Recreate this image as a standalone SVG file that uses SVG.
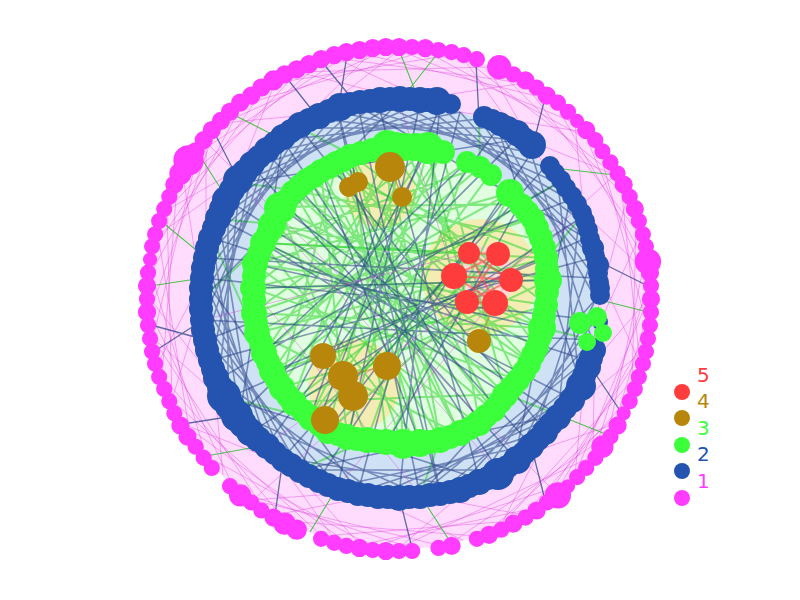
<svg xmlns="http://www.w3.org/2000/svg" width="800" height="600" viewBox="0 0 800 600">
<style>
.ep{stroke:#e03ce0;stroke-width:0.9;opacity:0.45;fill:none}
.eb{stroke:#2a4488;stroke-width:1.6;opacity:0.55;fill:none}
.eg{stroke:#2ed62e;stroke-width:2;opacity:0.55;fill:none}
.egt{stroke:#22bb22;stroke-width:1.1;opacity:0.8;fill:none}
.ebt{stroke:#2a4488;stroke-width:1.3;opacity:0.75;fill:none}
.er{stroke:#ff4444;stroke-width:2;opacity:0.6;fill:none}
.eo{stroke:#b8860b;stroke-width:1.5;opacity:0.6;fill:none}
.n1 circle{fill:#ff3cff;stroke:#ff3cff;stroke-width:2}
.n2 circle{fill:#2453b0}
.n3 circle{fill:#3cff3c}
.n4 circle{fill:#b8860b}
.n5 circle{fill:#ff3c3c}
.lab{font-family:"DejaVu Sans","Liberation Sans",sans-serif;font-size:20px}
</style>
<g id="regions">
<circle cx="399" cy="299" r="250" fill="#ffdcfd"/>
<circle cx="399" cy="299" r="197" fill="#cfe1f5"/>
<circle cx="400" cy="296" r="146" fill="#e0ffe0"/>
<circle cx="480" cy="277" r="58" fill="#f6eaab" opacity="0.85"/>
<circle cx="380" cy="192" r="36" fill="#f6eaab" opacity="0.85"/>
<circle cx="354" cy="385" r="46" fill="#f6eaab" opacity="0.85"/>
<circle cx="482" cy="278" r="32" fill="#ffd8d8" opacity="0.9"/>
</g>
<g id="connectors">
<path class="eg" d="M387 146L292 402M387 146L403 446M405 148L264 353M428 149L252 288M428 149L347 437M442 152L280 388M467 162L252 313M467 162L367 440M480 167L263 243M490 174L310 418M510 193L254 264M510 193L387 443M520 204L280 207M520 204L272 372M533 218L252 288M542 240L293 190M542 240L327 432M547 258L257 333M547 258L321 170M549 280L273 224M549 280L292 402M547 305L254 264M547 305L352 155M543 328L252 313M543 328L307 178M537 347L280 207M537 347L387 146M530 363L263 243M530 363L337 162M518 380L252 288M518 380L405 148M505 394L293 190M505 394L442 152M495 412L273 224M495 412L352 155M480 425L254 264M480 425L428 149M460 435L321 170M460 435L257 333M440 440L293 190M440 440L387 146M420 444L337 162M420 444L263 243M403 446L307 178M387 443L352 155M367 440L280 207M347 437L321 170M327 432L405 148M310 418L442 152M280 388L337 162M272 372L428 149M264 353L480 167M257 333L510 193M252 313L533 218M252 288L549 280M263 243L547 258M273 224L543 328M293 190L530 363M307 178L495 412M337 162L460 435M352 155L440 440M292 402L505 394M280 388L547 305"/>
<path class="eg" d="M273 224L219 219M263 243L202 299M264 353L212 238M310 418L228 398M367 440L300 470M440 440L420 495M505 394L558 415M543 328L592 340M547 258L579 219M520 204L558 183M480 167L479 119M352 155L300 128M293 190L240 183M454 276L292 402M469 253L263 243M511 280L337 162M495 303L272 372M467 302L428 149M498 254L310 418"/>
<path class="eb" d="M596 299L515 458M592 340L460 486M579 379L440 492M558 415L378 495M531 445L338 486M498 470L300 470M460 486L283 458M420 495L240 415M378 495L219 379M338 486L206 340M300 470L202 299M267 445L206 258M240 415L212 238M219 379L240 183M206 340L267 153M202 299L300 128M206 258L338 112M219 219L378 103M240 183L420 103M267 153L460 112M300 128L498 128M338 112L531 153M378 103L558 183M420 103L579 219M460 112L592 258M498 128L596 299M531 153L592 340M558 183L579 379M579 219L558 415M592 258L531 445M595 320L479 479M586 360L420 495M570 398L399 496M545 431L358 492M319 479L203 320M283 458L203 278M253 431L219 219M228 398L228 200M212 360L253 167M203 320L283 140M203 278L319 119M212 238L358 106M228 200L399 102M253 167L440 106M283 140L479 119M319 119L515 140M358 106L545 167M399 102L570 200M440 106L586 238M479 119L595 278"/>
<path class="eb" d="M596 299L420 495M558 415L300 470M479 479L228 398M358 492L203 278M240 415L283 140M202 299L399 102M240 183L515 140M358 106L586 238M498 128L579 379M570 200L515 458"/>
<path class="eb" d="M586 360L212 238M545 431L300 128M479 479L378 103M399 496L440 106M319 479L531 153M253 431L579 219M212 360L592 258M203 278L595 320M228 200L558 415M283 140L498 470M358 106L440 492M440 106L300 470M515 140L240 415M570 200L206 340M595 278L206 258M515 458L253 167M440 492L338 112M358 492L460 112M283 458L545 167M228 398L586 238M203 320L592 340M219 219L570 398M267 153L531 445M338 112L420 495M420 103L338 486M498 128L267 445M558 183L219 379"/>
<path class="eb" d="M252 288L549 280M280 207L518 380M327 432L510 193M337 162L480 425M264 353L467 162M292 402L428 149M254 264L543 328M310 418L405 148M387 443L520 204M272 372L547 258M263 243L505 394M420 444L321 170"/>
<path class="er" d="M469 253L511 280M498 254L454 276M454 276L511 280M467 302L498 254M495 303L469 253M454 276L495 303M467 302L511 280M469 253L498 254M467 302L495 303"/>
<path class="eo" d="M343 376L387 366M390 167L402 197M323 356L353 396M479 341L495 303"/>
<path class="ep" d="M648 299L575 475M645 338L556 493M636 376L500 527M627 400L524 515M608 435L451 543M593 456L399 548M566 484L373 547M535 508L360 545M512 521L322 536M476 536L286 521M438 545L253 500M412 548L242 493M373 547L206 456M347 543L183 424M322 536L172 400M286 521L162 376M263 508L153 338M232 484L150 312M206 456L151 273M190 435L158 235M172 400L167 210M162 376L177 186M153 338L198 153M150 312L214 132M151 273L242 105M155 247L263 90M167 210L298 72M177 186L322 62M198 153L347 55M223 123L386 50M242 105L425 51M275 83L451 55M298 72L488 67M335 58L524 83M360 53L545 98M399 50L575 123M425 51L593 142M463 58L615 175M500 72L627 198M524 83L640 235M556 105L645 260M584 132L648 286M600 153L647 325M621 186L640 363M636 222L632 388M645 260L608 435M648 286L593 456M648 312L615 424M643 351L545 500M621 412L488 532"/>
<path class="ep" d="M648 299L579 379M640 363L592 258M615 424L515 458M575 475L586 360M524 515L420 495M463 540L358 492M399 548L479 479M335 540L267 445M275 515L378 495M223 475L212 360M183 424L300 470M158 363L203 278M150 299L228 398M158 235L253 167M183 175L202 299M223 123L338 112M275 83L228 200M335 58L440 106M399 50L300 128M463 58L531 153M524 83L399 102M575 123L586 238M615 175L498 128M640 235L592 340M643 351L545 431M593 456L595 320M500 527L558 415M360 545L283 458M253 500L358 492M172 400L202 299M153 338L240 415M167 210L267 153M206 142L206 258M298 72L420 103M373 51L283 140M488 67L545 167M584 132L460 112M627 198L595 320M647 273L570 200"/>
<path class="ep" d="M615 175L253 500M206 142L556 493M240 183L498 470M579 219L267 445M399 102L454 276M203 320L469 253M338 486L511 280M420 495L252 288"/>
<path class="egt" d="M232 114L283 140M399 50L420 103M438 53L399 102M615 175L545 167M648 312L596 299M608 435L558 415M451 543L420 495M310 532L338 486M206 456L267 445M150 286L203 278M162 222L206 258M198 153L228 200"/>
<path class="ebt" d="M151 325L206 340M155 351L203 320M214 132L240 183M322 62L358 106M347 55L338 112M545 98L531 153M648 286L592 258M621 412L586 360M545 500L531 445M412 548L399 496M275 515L283 458M183 424L240 415M286 77L319 119M476 62L479 119"/>
</g>
<g id="shell1" class="n1" transform="translate(-4.79,-3.59) scale(1.012)">
<g id="p0"><circle cx="648" cy="299" r="8"/></g>
<g id="p3"><circle cx="648" cy="312" r="7"/></g>
<g id="p6"><circle cx="647" cy="325" r="7"/></g>
<g id="p9"><circle cx="645" cy="338" r="7"/></g>
<g id="p12"><circle cx="643" cy="351" r="7"/></g>
<g id="p15"><circle cx="640" cy="363" r="7"/></g>
<g id="p18"><circle cx="636" cy="376" r="7"/></g>
<g id="p21"><circle cx="632" cy="388" r="7"/></g>
<g id="p24"><circle cx="627" cy="400" r="7"/></g>
<g id="p27"><circle cx="621" cy="412" r="6"/></g>
<g id="p30"><circle cx="615" cy="424" r="8"/></g>
<g id="p33"><circle cx="608" cy="435" r="7"/></g>
<g id="p36"><circle cx="600" cy="445" r="10"/></g>
<g id="p39"><circle cx="593" cy="456" r="7"/></g>
<g id="p42"><circle cx="584" cy="466" r="7"/></g>
<g id="p45"><circle cx="575" cy="475" r="7"/></g>
<g id="p48"><circle cx="566" cy="484" r="6"/></g>
<g id="p51"><circle cx="556" cy="493" r="12"/></g>
<g id="p54"><circle cx="545" cy="500" r="7"/></g>
<g id="p57"><circle cx="535" cy="508" r="8"/></g>
<g id="p60"><circle cx="524" cy="515" r="7"/></g>
<g id="p63"><circle cx="512" cy="521" r="8"/></g>
<g id="p66"><circle cx="500" cy="527" r="7"/></g>
<g id="p69"><circle cx="488" cy="532" r="8"/></g>
<g id="p72"><circle cx="476" cy="536" r="7"/></g>
<g id="p78"><circle cx="451" cy="543" r="8"/></g>
<g id="p81"><circle cx="438" cy="545" r="7"/></g>
<g id="p87"><circle cx="412" cy="548" r="7"/></g>
<g id="p90"><circle cx="399" cy="548" r="7"/></g>
<g id="p93"><circle cx="386" cy="548" r="8"/></g>
<g id="p96"><circle cx="373" cy="547" r="7"/></g>
<g id="p99"><circle cx="360" cy="545" r="8"/></g>
<g id="p102"><circle cx="347" cy="543" r="7"/></g>
<g id="p105"><circle cx="335" cy="540" r="7"/></g>
<g id="p108"><circle cx="322" cy="536" r="7"/></g>
<g id="p114"><circle cx="298" cy="527" r="9"/></g>
<g id="p117"><circle cx="286" cy="521" r="10"/></g>
<g id="p120"><circle cx="275" cy="515" r="8"/></g>
<g id="p123"><circle cx="263" cy="508" r="7"/></g>
<g id="p126"><circle cx="253" cy="500" r="7"/></g>
<g id="p129"><circle cx="242" cy="493" r="10"/></g>
<g id="p132"><circle cx="232" cy="484" r="7"/></g>
<g id="p138"><circle cx="214" cy="466" r="7"/></g>
<g id="p141"><circle cx="206" cy="456" r="7"/></g>
<g id="p144"><circle cx="198" cy="445" r="7"/></g>
<g id="p147"><circle cx="190" cy="435" r="8"/></g>
<g id="p150"><circle cx="183" cy="424" r="8"/></g>
<g id="p153"><circle cx="177" cy="412" r="7"/></g>
<g id="p156"><circle cx="172" cy="400" r="7"/></g>
<g id="p159"><circle cx="167" cy="388" r="7"/></g>
<g id="p162"><circle cx="162" cy="376" r="7"/></g>
<g id="p165"><circle cx="158" cy="363" r="7"/></g>
<g id="p168"><circle cx="155" cy="351" r="7"/></g>
<g id="p171"><circle cx="153" cy="338" r="7"/></g>
<g id="p174"><circle cx="151" cy="325" r="7"/></g>
<g id="p177"><circle cx="150" cy="312" r="8"/></g>
<g id="p180"><circle cx="150" cy="299" r="7"/></g>
<g id="p183"><circle cx="150" cy="286" r="8"/></g>
<g id="p186"><circle cx="151" cy="273" r="7"/></g>
<g id="p189"><circle cx="153" cy="260" r="6"/></g>
<g id="p192"><circle cx="155" cy="247" r="7"/></g>
<g id="p195"><circle cx="158" cy="235" r="7"/></g>
<g id="p198"><circle cx="162" cy="222" r="7"/></g>
<g id="p201"><circle cx="167" cy="210" r="7"/></g>
<g id="p204"><circle cx="172" cy="198" r="7"/></g>
<g id="p207"><circle cx="177" cy="186" r="8"/></g>
<g id="p210"><circle cx="183" cy="175" r="10"/></g>
<g id="p213"><circle cx="191" cy="162" r="14"/></g>
<g id="p216"><circle cx="198" cy="153" r="8"/></g>
<g id="p219"><circle cx="206" cy="142" r="8"/></g>
<g id="p222"><circle cx="214" cy="132" r="8"/></g>
<g id="p225"><circle cx="223" cy="123" r="8"/></g>
<g id="p228"><circle cx="232" cy="114" r="8"/></g>
<g id="p231"><circle cx="242" cy="105" r="8"/></g>
<g id="p234"><circle cx="253" cy="98" r="8"/></g>
<g id="p237"><circle cx="263" cy="90" r="8"/></g>
<g id="p240"><circle cx="275" cy="83" r="9"/></g>
<g id="p243"><circle cx="286" cy="77" r="8"/></g>
<g id="p246"><circle cx="298" cy="72" r="8"/></g>
<g id="p249"><circle cx="310" cy="67" r="8"/></g>
<g id="p252"><circle cx="322" cy="62" r="8"/></g>
<g id="p255"><circle cx="335" cy="58" r="8"/></g>
<g id="p258"><circle cx="347" cy="55" r="8"/></g>
<g id="p261"><circle cx="360" cy="53" r="8"/></g>
<g id="p264"><circle cx="373" cy="51" r="8"/></g>
<g id="p267"><circle cx="386" cy="50" r="8"/></g>
<g id="p270"><circle cx="399" cy="50" r="8"/></g>
<g id="p273"><circle cx="412" cy="50" r="7"/></g>
<g id="p276"><circle cx="425" cy="51" r="8"/></g>
<g id="p279"><circle cx="438" cy="53" r="7"/></g>
<g id="p282"><circle cx="451" cy="55" r="7"/></g>
<g id="p285"><circle cx="463" cy="58" r="7"/></g>
<g id="p288"><circle cx="476" cy="62" r="7"/></g>
<g id="p294"><circle cx="498" cy="70" r="11"/></g>
<g id="p297"><circle cx="512" cy="77" r="7"/></g>
<g id="p300"><circle cx="524" cy="83" r="8"/></g>
<g id="p303"><circle cx="535" cy="90" r="7"/></g>
<g id="p306"><circle cx="545" cy="98" r="8"/></g>
<g id="p309"><circle cx="556" cy="105" r="7"/></g>
<g id="p312"><circle cx="566" cy="114" r="7"/></g>
<g id="p315"><circle cx="575" cy="123" r="6"/></g>
<g id="p318"><circle cx="584" cy="132" r="8"/></g>
<g id="p321"><circle cx="593" cy="142" r="7"/></g>
<g id="p324"><circle cx="600" cy="153" r="7"/></g>
<g id="p327"><circle cx="608" cy="164" r="7"/></g>
<g id="p330"><circle cx="615" cy="175" r="7"/></g>
<g id="p333"><circle cx="621" cy="186" r="8"/></g>
<g id="p336"><circle cx="627" cy="198" r="7"/></g>
<g id="p339"><circle cx="632" cy="210" r="8"/></g>
<g id="p342"><circle cx="636" cy="222" r="7"/></g>
<g id="p345"><circle cx="640" cy="235" r="7"/></g>
<g id="p348"><circle cx="643" cy="247" r="7"/></g>
<g id="p351"><circle cx="645" cy="262" r="12"/></g>
<g id="p354"><circle cx="647" cy="273" r="8"/></g>
<g id="p357"><circle cx="648" cy="286" r="7"/></g>
</g>
<g id="shell2" class="n2">
<g id="b0"><circle cx="600" cy="295" r="10"/></g>
<g id="b1"><circle cx="600" cy="322" r="8"/></g>
<g id="b2"><circle cx="594" cy="350" r="12"/></g>
<g id="b3"><circle cx="588" cy="367" r="13"/></g>
<g id="b4"><circle cx="581" cy="386" r="15"/></g>
<g id="b5"><circle cx="572" cy="400" r="13"/></g>
<g id="b6"><circle cx="558" cy="417" r="13"/></g>
<g id="b7"><circle cx="545" cy="432" r="13"/></g>
<g id="b8"><circle cx="531" cy="446" r="13"/></g>
<g id="b9"><circle cx="517" cy="460" r="14"/></g>
<g id="b10"><circle cx="498" cy="474" r="16"/></g>
<g id="b11"><circle cx="479" cy="482" r="13"/></g>
<g id="b12"><circle cx="460" cy="490" r="13"/></g>
<g id="b13"><circle cx="440" cy="494" r="12"/></g>
<g id="b14"><circle cx="420" cy="497" r="12"/></g>
<g id="b15"><circle cx="399" cy="498" r="13"/></g>
<g id="b16"><circle cx="378" cy="497" r="12"/></g>
<g id="b17"><circle cx="358" cy="494" r="12"/></g>
<g id="b18"><circle cx="338" cy="489" r="12"/></g>
<g id="b19"><circle cx="319" cy="481" r="12"/></g>
<g id="b20"><circle cx="300" cy="471" r="12"/></g>
<g id="b21"><circle cx="283" cy="460" r="12"/></g>
<g id="b22"><circle cx="267" cy="446" r="13"/></g>
<g id="b23"><circle cx="250" cy="432" r="14"/></g>
<g id="b24"><circle cx="237" cy="416" r="16"/></g>
<g id="b25"><circle cx="224" cy="396" r="17"/></g>
<g id="b26"><circle cx="216" cy="378" r="13"/></g>
<g id="b27"><circle cx="210" cy="360" r="12"/></g>
<g id="b28"><circle cx="205" cy="340" r="12"/></g>
<g id="b29"><circle cx="202" cy="320" r="12"/></g>
<g id="b30"><circle cx="201" cy="299" r="12"/></g>
<g id="b31"><circle cx="202" cy="278" r="12"/></g>
<g id="b32"><circle cx="205" cy="258" r="12"/></g>
<g id="b33"><circle cx="210" cy="238" r="12"/></g>
<g id="b34"><circle cx="218" cy="218" r="13"/></g>
<g id="b35"><circle cx="226" cy="200" r="14"/></g>
<g id="b36"><circle cx="238" cy="180" r="15"/></g>
<g id="b37"><circle cx="252" cy="164" r="13"/></g>
<g id="b38"><circle cx="267" cy="150" r="13"/></g>
<g id="b39"><circle cx="283" cy="137" r="13"/></g>
<g id="b40"><circle cx="300" cy="125" r="13"/></g>
<g id="b41"><circle cx="319" cy="116" r="13"/></g>
<g id="b42"><circle cx="340" cy="107" r="14"/></g>
<g id="b43"><circle cx="360" cy="102" r="12"/></g>
<g id="b44"><circle cx="380" cy="100" r="13"/></g>
<g id="b45"><circle cx="400" cy="99" r="13"/></g>
<g id="b46"><circle cx="420" cy="100" r="13"/></g>
<g id="b47"><circle cx="437" cy="101" r="14"/></g>
<g id="b48"><circle cx="451" cy="104" r="10"/></g>
<g id="b49"><circle cx="484" cy="117" r="11"/></g>
<g id="b50"><circle cx="500" cy="124" r="12"/></g>
<g id="b51"><circle cx="517" cy="133" r="13"/></g>
<g id="b52"><circle cx="532" cy="145" r="14"/></g>
<g id="b53"><circle cx="550" cy="166" r="10"/></g>
<g id="b54"><circle cx="561" cy="180" r="10"/></g>
<g id="b55"><circle cx="572" cy="196" r="10"/></g>
<g id="b56"><circle cx="582" cy="213" r="10"/></g>
<g id="b57"><circle cx="588" cy="230" r="10"/></g>
<g id="b58"><circle cx="593" cy="248" r="11"/></g>
<g id="b59"><circle cx="598" cy="265" r="11"/></g>
<g id="b60"><circle cx="599" cy="282" r="10"/></g>
<g id="b61"><circle cx="591" cy="358" r="12"/></g>
<g id="b62"><circle cx="584" cy="376" r="12"/></g>
<g id="b63"><circle cx="576" cy="393" r="12"/></g>
<g id="b64"><circle cx="565" cy="408" r="12"/></g>
<g id="b65"><circle cx="551" cy="424" r="12"/></g>
<g id="b66"><circle cx="538" cy="439" r="12"/></g>
<g id="b67"><circle cx="524" cy="453" r="12"/></g>
<g id="b68"><circle cx="507" cy="467" r="12"/></g>
<g id="b69"><circle cx="488" cy="478" r="12"/></g>
<g id="b70"><circle cx="469" cy="486" r="12"/></g>
<g id="b71"><circle cx="450" cy="492" r="12"/></g>
<g id="b72"><circle cx="430" cy="495" r="12"/></g>
<g id="b73"><circle cx="409" cy="497" r="12"/></g>
<g id="b74"><circle cx="388" cy="497" r="12"/></g>
<g id="b75"><circle cx="368" cy="495" r="12"/></g>
<g id="b76"><circle cx="348" cy="491" r="12"/></g>
<g id="b77"><circle cx="328" cy="485" r="12"/></g>
<g id="b78"><circle cx="309" cy="476" r="12"/></g>
<g id="b79"><circle cx="291" cy="465" r="12"/></g>
<g id="b80"><circle cx="275" cy="453" r="12"/></g>
<g id="b81"><circle cx="258" cy="439" r="13"/></g>
<g id="b82"><circle cx="243" cy="424" r="14"/></g>
<g id="b83"><circle cx="230" cy="406" r="15"/></g>
<g id="b84"><circle cx="220" cy="387" r="13"/></g>
<g id="b85"><circle cx="213" cy="369" r="12"/></g>
<g id="b86"><circle cx="207" cy="350" r="12"/></g>
<g id="b87"><circle cx="203" cy="330" r="12"/></g>
<g id="b88"><circle cx="201" cy="309" r="12"/></g>
<g id="b89"><circle cx="201" cy="288" r="12"/></g>
<g id="b90"><circle cx="203" cy="268" r="12"/></g>
<g id="b91"><circle cx="207" cy="248" r="12"/></g>
<g id="b92"><circle cx="214" cy="228" r="12"/></g>
<g id="b93"><circle cx="222" cy="209" r="13"/></g>
<g id="b94"><circle cx="232" cy="190" r="13"/></g>
<g id="b95"><circle cx="245" cy="172" r="13"/></g>
<g id="b96"><circle cx="259" cy="157" r="12"/></g>
<g id="b97"><circle cx="275" cy="143" r="12"/></g>
<g id="b98"><circle cx="291" cy="131" r="12"/></g>
<g id="b99"><circle cx="309" cy="120" r="12"/></g>
<g id="b100"><circle cx="329" cy="111" r="12"/></g>
<g id="b101"><circle cx="350" cy="104" r="12"/></g>
<g id="b102"><circle cx="370" cy="101" r="12"/></g>
<g id="b103"><circle cx="390" cy="99" r="12"/></g>
<g id="b104"><circle cx="410" cy="99" r="12"/></g>
<g id="b105"><circle cx="428" cy="100" r="12"/></g>
<g id="b106"><circle cx="492" cy="120" r="11"/></g>
<g id="b107"><circle cx="508" cy="128" r="12"/></g>
<g id="b108"><circle cx="524" cy="139" r="12"/></g>
<g id="b109"><circle cx="555" cy="173" r="10"/></g>
<g id="b110"><circle cx="566" cy="188" r="10"/></g>
<g id="b111"><circle cx="577" cy="204" r="10"/></g>
<g id="b112"><circle cx="585" cy="221" r="10"/></g>
<g id="b113"><circle cx="590" cy="239" r="10"/></g>
<g id="b114"><circle cx="595" cy="256" r="10"/></g>
<g id="b115"><circle cx="598" cy="273" r="10"/></g>
<g id="b116"><circle cx="600" cy="288" r="10"/></g>
</g>
<g id="shell3" class="n3">
<g id="g0"><circle cx="387" cy="146" r="16"/></g>
<g id="g1"><circle cx="372" cy="150" r="12"/></g>
<g id="g2"><circle cx="405" cy="147" r="14"/></g>
<g id="g3"><circle cx="428" cy="148" r="16"/></g>
<g id="g4"><circle cx="443" cy="152" r="12"/></g>
<g id="g5"><circle cx="467" cy="162" r="11"/></g>
<g id="g6"><circle cx="480" cy="167" r="11"/></g>
<g id="g7"><circle cx="491" cy="175" r="11"/></g>
<g id="g8"><circle cx="510" cy="193" r="14"/></g>
<g id="g9"><circle cx="521" cy="205" r="12"/></g>
<g id="g10"><circle cx="533" cy="219" r="12"/></g>
<g id="g11"><circle cx="541" cy="238" r="12"/></g>
<g id="g12"><circle cx="546" cy="258" r="12"/></g>
<g id="g13"><circle cx="548" cy="280" r="14"/></g>
<g id="g14"><circle cx="546" cy="305" r="12"/></g>
<g id="g15"><circle cx="542" cy="328" r="14"/></g>
<g id="g16"><circle cx="537" cy="347" r="12"/></g>
<g id="g17"><circle cx="529" cy="364" r="12"/></g>
<g id="g18"><circle cx="518" cy="380" r="12"/></g>
<g id="g19"><circle cx="505" cy="395" r="13"/></g>
<g id="g20"><circle cx="494" cy="410" r="12"/></g>
<g id="g21"><circle cx="479" cy="423" r="13"/></g>
<g id="g22"><circle cx="460" cy="433" r="13"/></g>
<g id="g23"><circle cx="440" cy="440" r="13"/></g>
<g id="g24"><circle cx="420" cy="443" r="14"/></g>
<g id="g25"><circle cx="403" cy="444" r="15"/></g>
<g id="g26"><circle cx="386" cy="442" r="13"/></g>
<g id="g27"><circle cx="367" cy="440" r="13"/></g>
<g id="g28"><circle cx="347" cy="437" r="13"/></g>
<g id="g29"><circle cx="328" cy="431" r="13"/></g>
<g id="g30"><circle cx="311" cy="418" r="13"/></g>
<g id="g31"><circle cx="294" cy="403" r="13"/></g>
<g id="g32"><circle cx="282" cy="388" r="13"/></g>
<g id="g33"><circle cx="272" cy="371" r="13"/></g>
<g id="g34"><circle cx="264" cy="353" r="13"/></g>
<g id="g35"><circle cx="257" cy="333" r="13"/></g>
<g id="g36"><circle cx="254" cy="313" r="13"/></g>
<g id="g37"><circle cx="253" cy="288" r="13"/></g>
<g id="g38"><circle cx="255" cy="264" r="13"/></g>
<g id="g39"><circle cx="263" cy="243" r="13"/></g>
<g id="g40"><circle cx="272" cy="225" r="14"/></g>
<g id="g41"><circle cx="280" cy="208" r="16"/></g>
<g id="g42"><circle cx="293" cy="192" r="12"/></g>
<g id="g43"><circle cx="307" cy="180" r="12"/></g>
<g id="g44"><circle cx="321" cy="171" r="12"/></g>
<g id="g45"><circle cx="336" cy="163" r="12"/></g>
<g id="g46"><circle cx="350" cy="156" r="12"/></g>
<g id="g47"><circle cx="580" cy="323" r="11"/></g>
<g id="g48"><circle cx="597" cy="317" r="10"/></g>
<g id="g49"><circle cx="603" cy="333" r="9"/></g>
<g id="g50"><circle cx="587" cy="342" r="9"/></g>
<g id="g51"><circle cx="396" cy="146" r="14"/></g>
<g id="g52"><circle cx="416" cy="147" r="14"/></g>
<g id="g53"><circle cx="527" cy="212" r="12"/></g>
<g id="g54"><circle cx="537" cy="228" r="12"/></g>
<g id="g55"><circle cx="544" cy="248" r="12"/></g>
<g id="g56"><circle cx="547" cy="269" r="12"/></g>
<g id="g57"><circle cx="547" cy="292" r="12"/></g>
<g id="g58"><circle cx="544" cy="316" r="12"/></g>
<g id="g59"><circle cx="540" cy="337" r="12"/></g>
<g id="g60"><circle cx="533" cy="355" r="12"/></g>
<g id="g61"><circle cx="524" cy="372" r="12"/></g>
<g id="g62"><circle cx="512" cy="387" r="12"/></g>
<g id="g63"><circle cx="500" cy="402" r="12"/></g>
<g id="g64"><circle cx="486" cy="416" r="12"/></g>
<g id="g65"><circle cx="470" cy="428" r="12"/></g>
<g id="g66"><circle cx="450" cy="437" r="12"/></g>
<g id="g67"><circle cx="430" cy="442" r="12"/></g>
<g id="g68"><circle cx="412" cy="444" r="12"/></g>
<g id="g69"><circle cx="395" cy="443" r="12"/></g>
<g id="g70"><circle cx="376" cy="441" r="12"/></g>
<g id="g71"><circle cx="357" cy="439" r="12"/></g>
<g id="g72"><circle cx="338" cy="434" r="12"/></g>
<g id="g73"><circle cx="320" cy="425" r="12"/></g>
<g id="g74"><circle cx="303" cy="411" r="12"/></g>
<g id="g75"><circle cx="288" cy="396" r="12"/></g>
<g id="g76"><circle cx="277" cy="380" r="12"/></g>
<g id="g77"><circle cx="268" cy="362" r="12"/></g>
<g id="g78"><circle cx="261" cy="343" r="12"/></g>
<g id="g79"><circle cx="256" cy="323" r="12"/></g>
<g id="g80"><circle cx="254" cy="300" r="12"/></g>
<g id="g81"><circle cx="254" cy="276" r="12"/></g>
<g id="g82"><circle cx="259" cy="254" r="12"/></g>
<g id="g83"><circle cx="268" cy="234" r="12"/></g>
<g id="g84"><circle cx="276" cy="216" r="12"/></g>
<g id="g85"><circle cx="287" cy="200" r="12"/></g>
<g id="g86"><circle cx="300" cy="186" r="12"/></g>
<g id="g87"><circle cx="314" cy="176" r="12"/></g>
<g id="g88"><circle cx="329" cy="167" r="12"/></g>
<g id="g89"><circle cx="343" cy="160" r="12"/></g>
<g id="g90"><circle cx="361" cy="153" r="12"/></g>
</g>
<g id="shell4" class="n4">
<g id="o0"><circle cx="390" cy="167" r="15"/></g>
<g id="o1"><circle cx="358" cy="182" r="10"/></g>
<g id="o2"><circle cx="349" cy="187" r="10"/></g>
<g id="o3"><circle cx="402" cy="197" r="10"/></g>
<g id="o4"><circle cx="323" cy="356" r="13"/></g>
<g id="o5"><circle cx="343" cy="376" r="15"/></g>
<g id="o6"><circle cx="353" cy="396" r="15"/></g>
<g id="o7"><circle cx="387" cy="366" r="14"/></g>
<g id="o8"><circle cx="325" cy="420" r="14"/></g>
<g id="o9"><circle cx="479" cy="341" r="12"/></g>
</g>
<g id="shell5" class="n5">
<g id="r0"><circle cx="469" cy="253" r="11"/></g>
<g id="r1"><circle cx="498" cy="254" r="12"/></g>
<g id="r2"><circle cx="454" cy="276" r="13"/></g>
<g id="r3"><circle cx="511" cy="280" r="12"/></g>
<g id="r4"><circle cx="467" cy="302" r="12"/></g>
<g id="r5"><circle cx="495" cy="303" r="13"/></g>
</g>
<g id="legend">
<circle cx="682" cy="392" r="8" fill="#ff3c3c"/>
<circle cx="682" cy="418" r="8" fill="#b8860b"/>
<circle cx="682" cy="445" r="8" fill="#3cff3c"/>
<circle cx="682" cy="471" r="8" fill="#2453b0"/>
<circle cx="682" cy="498" r="8" fill="#ff3cff"/>
<text class="lab" x="697" y="382" fill="#ff3c3c">5</text>
<text class="lab" x="697" y="408" fill="#b8860b">4</text>
<text class="lab" x="697" y="435" fill="#3cff3c">3</text>
<text class="lab" x="697" y="461" fill="#2453b0">2</text>
<text class="lab" x="697" y="488" fill="#ff3cff">1</text>
</g>
</svg>
